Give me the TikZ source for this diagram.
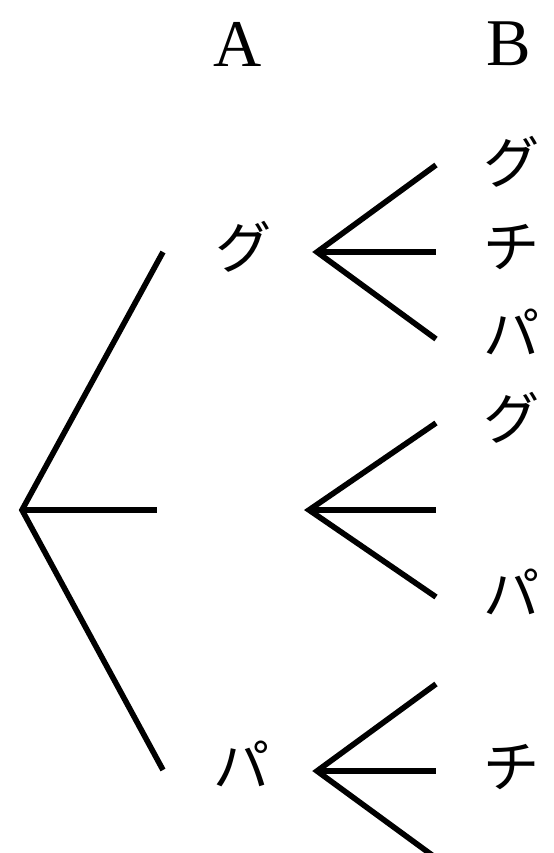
\documentclass[tikz,border=0pt]{standalone}
\usepackage{fontspec}
\setmainfont{Liberation Serif}
\newfontfamily\jpfont{Noto Sans CJK JP}
\usetikzlibrary{positioning}

\tikzset{
  branch/.style={line width=3.2pt},
  kana/.style={font=\jpfont\fontsize{32}{32}\selectfont, inner sep=0pt},
  head/.style={font=\fontsize{38}{38}\selectfont, inner sep=0pt}
}

\begin{document}
\begin{tikzpicture}[x=0.02cm,y=-0.02cm]
\useasboundingbox (0,0) rectangle (554,853);

\node[head] (hA) at (238,44) {A};
\node[head] (hB) at (509,44) {B};

% Aの枝
\coordinate (root) at (22,510);
\coordinate (a1) at (163,252);
\coordinate (a2) at (157,510);
\coordinate (a3) at (163,770);
\draw[branch] (a1) -- (root) -- (a3);
\draw[branch] (root) -- (a2);

\node[kana] (ga) at (244,247) {グ};
\node[kana] (pa) at (242,764) {パ};

% Bの枝
\coordinate (b1) at (317,252);
\coordinate (b2) at (309,510);
\coordinate (b3) at (317,771);
\foreach \v/\y in {b1/252, b2/510, b3/771}{
  \coordinate (\v u) at (436,\y-87);
  \coordinate (\v m) at (436,\y);
  \coordinate (\v d) at (436,\y+87);
  \draw[branch] (\v u) -- (\v) -- (\v d);
  \draw[branch] (\v) -- (\v m);
}

\node[kana] (b1g) at (512,162) {グ};
\node[kana] (b1c) at (512,247) {チ};
\node[kana] (b1p) at (512,332) {パ};
\node[kana] (b2g) at (512,418) {グ};
\node[kana] (b2p) at (512,592) {パ};
\node[kana] (b3c) at (512,767) {チ};

\end{tikzpicture}
\end{document}
